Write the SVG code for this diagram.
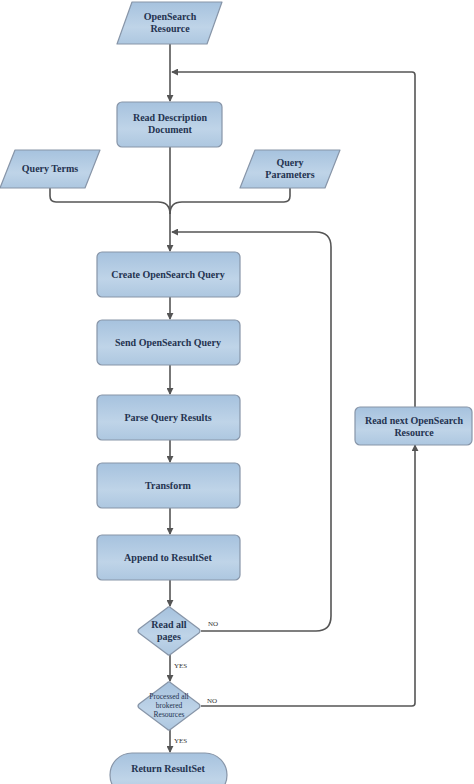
<svg xmlns="http://www.w3.org/2000/svg" width="474" height="784" viewBox="0 0 474 784">
<defs>
<linearGradient id="g" x1="0" y1="0" x2="0" y2="1">
<stop offset="0" stop-color="#a6c2de"/>
<stop offset="0.6" stop-color="#bfd4e8"/>
<stop offset="1" stop-color="#adc7e0"/>
</linearGradient>
<marker id="ah" viewBox="0 0 8 8" refX="7" refY="4" markerWidth="7" markerHeight="7" markerUnits="userSpaceOnUse" orient="auto">
<path d="M0,0 L8,4 L0,8 z" fill="#555"/>
</marker>
</defs>
<style>
.n{fill:url(#g);stroke:#8795a8;stroke-width:1.2;stroke-linejoin:round}
.t{font-family:"Liberation Serif","DejaVu Serif",serif;font-weight:bold;font-size:10px;fill:#243350;text-anchor:middle}
.s{font-family:"Liberation Serif","DejaVu Serif",serif;font-size:7.5px;fill:#243350;text-anchor:middle}
.l{font-family:"Liberation Serif","DejaVu Serif",serif;font-size:7px;fill:#333}
.c{fill:none;stroke:#555;stroke-width:1.6}
</style>
<g id="connectors">
<path class="c" d="M170,44 V101" marker-end="url(#ah)"/>
<path class="c" d="M415,407 V75 Q415,72 412,72 H172" marker-end="url(#ah)"/>
<path class="c" d="M170,147 V251" marker-end="url(#ah)"/>
<path class="c" d="M50,188 V196 Q50,202 56,202 H158 Q170,202 170,214"/>
<path class="c" d="M290,188 V196 Q290,202 284,202 H182 Q170,202 170,214"/>
<path class="c" d="M201,631 H316 Q331,631 331,616 V247 Q331,232 316,232 H172" marker-end="url(#ah)"/>
<path class="c" d="M201,706 H412 Q415,706 415,703 V445" marker-end="url(#ah)"/>
<path class="c" d="M170,297 V319" marker-end="url(#ah)"/>
<path class="c" d="M170,365 V394" marker-end="url(#ah)"/>
<path class="c" d="M170,440 V462" marker-end="url(#ah)"/>
<path class="c" d="M170,508 V534" marker-end="url(#ah)"/>
<path class="c" d="M170,580 V606" marker-end="url(#ah)"/>
<path class="c" d="M170,655 V681" marker-end="url(#ah)"/>
<path class="c" d="M170,730 V752" marker-end="url(#ah)"/>
<text class="l" x="208" y="626">NO</text>
<text class="l" x="174" y="668">YES</text>
<text class="l" x="207" y="703">NO</text>
<text class="l" x="174" y="743">YES</text>
</g>
<g id="opensearch-resource">
<path class="n" d="M132,2 H222 L207,44 H117 Z"/>
<text class="t" x="170" y="20">OpenSearch</text>
<text class="t" x="170" y="32">Resource</text>
</g>
<g id="read-description">
<rect class="n" x="117" y="102" width="105" height="45" rx="5"/>
<text class="t" x="170" y="121">Read Description</text>
<text class="t" x="170" y="133">Document</text>
</g>
<g id="query-terms">
<path class="n" d="M15,150 H100 L85,188 H0 Z"/>
<text class="t" x="50" y="172">Query Terms</text>
</g>
<g id="query-parameters">
<path class="n" d="M255,150 H340 L325,188 H240 Z"/>
<text class="t" x="290" y="166">Query</text>
<text class="t" x="290" y="178">Parameters</text>
</g>
<g id="create-query">
<rect class="n" x="97" y="252" width="143" height="45" rx="5"/>
<text class="t" x="168" y="278">Create OpenSearch Query</text>
</g>
<g id="send-query">
<rect class="n" x="97" y="320" width="143" height="45" rx="5"/>
<text class="t" x="168" y="346">Send OpenSearch Query</text>
</g>
<g id="parse-results">
<rect class="n" x="97" y="395" width="143" height="45" rx="5"/>
<text class="t" x="168" y="421">Parse Query Results</text>
</g>
<g id="transform">
<rect class="n" x="97" y="463" width="143" height="45" rx="5"/>
<text class="t" x="168" y="489">Transform</text>
</g>
<g id="append">
<rect class="n" x="97" y="535" width="143" height="45" rx="5"/>
<text class="t" x="168" y="561">Append to ResultSet</text>
</g>
<g id="read-all-pages">
<path class="n" d="M167,608 Q169,606 171,608 L199,629 Q201,631 199,633 L171,654 Q169,656 167,654 L139,633 Q137,631 139,629 Z"/>
<text class="t" x="169" y="628">Read all</text>
<text class="t" x="169" y="640">pages</text>
</g>
<g id="processed-all">
<path class="n" d="M167,683 Q169,681 171,683 L199,704 Q201,706 199,708 L171,729 Q169,731 167,729 L139,708 Q137,706 139,704 Z"/>
<text class="s" x="169" y="699">Processed all</text>
<text class="s" x="169" y="708">brokered</text>
<text class="s" x="169" y="717">Resources</text>
</g>
<g id="read-next">
<rect class="n" x="355" y="407" width="117" height="38" rx="5"/>
<text class="t" x="414" y="424">Read next OpenSearch</text>
<text class="t" x="414" y="436">Resource</text>
</g>
<g id="return-resultset">
<rect class="n" x="110" y="753" width="117" height="44" rx="22"/>
<text class="t" x="168" y="772">Return ResultSet</text>
</g>
</svg>
